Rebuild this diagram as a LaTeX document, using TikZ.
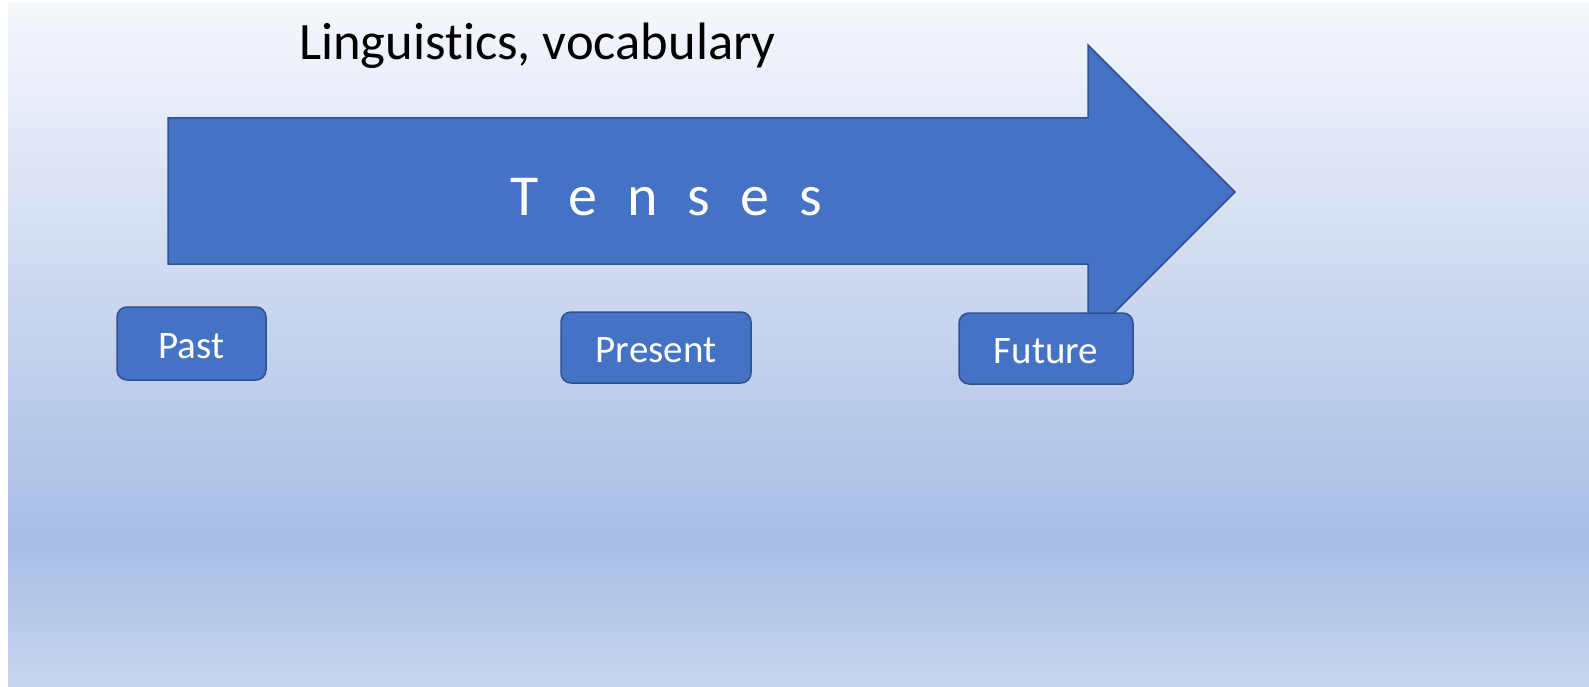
\documentclass[tikz,border=0pt]{standalone}
\usepackage{fontspec}
\setmainfont{Carlito}[RawFeature=-liga]
\definecolor{bgtop}{HTML}{F5F7FC}
\definecolor{bgmid}{HTML}{A9BDE5}
\definecolor{bgbot}{HTML}{C7D5EE}
\definecolor{ofill}{HTML}{4472C4}
\definecolor{oline}{HTML}{2F528F}
\tikzset{
  tbox/.style={draw=oline, fill=ofill, line width=1.5pt, rounded corners=10pt,
    text=white, font=\fontsize{39}{44}\selectfont, inner sep=0pt,
    text height=30pt, text depth=0pt},
  bigarrow/.style={draw=oline, fill=ofill, line width=1.5pt, line join=miter},
}
\newcommand{\lsp}{\hspace{30pt}}
\begin{document}
\begin{tikzpicture}[x=1pt,y=-1pt]
\useasboundingbox (0,0) rectangle (1589,687);
\shade[top color=bgtop,bottom color=bgmid] (8,4) rectangle (1589,541);
\shade[top color=bgmid,bottom color=bgbot] (8,540) rectangle (1589,686);
\draw[bigarrow] (168,118) -- (1088,118) -- (1088,45) -- (1235,192) -- (1088,339) -- (1088,264) -- (168,264) -- cycle;
\node[anchor=base west, inner sep=0pt, font=\fontsize{52.6}{60}\selectfont] (title) at (299,60) {Linguistics, vocabulary};
\node[anchor=base west, inner sep=0pt, text=white, font=\fontsize{58}{64}\selectfont] (tenses) at (510,215) {T\lsp e\lsp n\lsp s\lsp e\lsp s};
\node[tbox, minimum width=149pt, minimum height=73pt] (past) at (191.5,343.5) {Past};
\node[tbox, minimum width=190pt, minimum height=71pt] (present) at (656,347.5) {Present};
\node[tbox, minimum width=174pt, minimum height=71pt] (future) at (1046,348.5) {Future};
\end{tikzpicture}
\end{document}
